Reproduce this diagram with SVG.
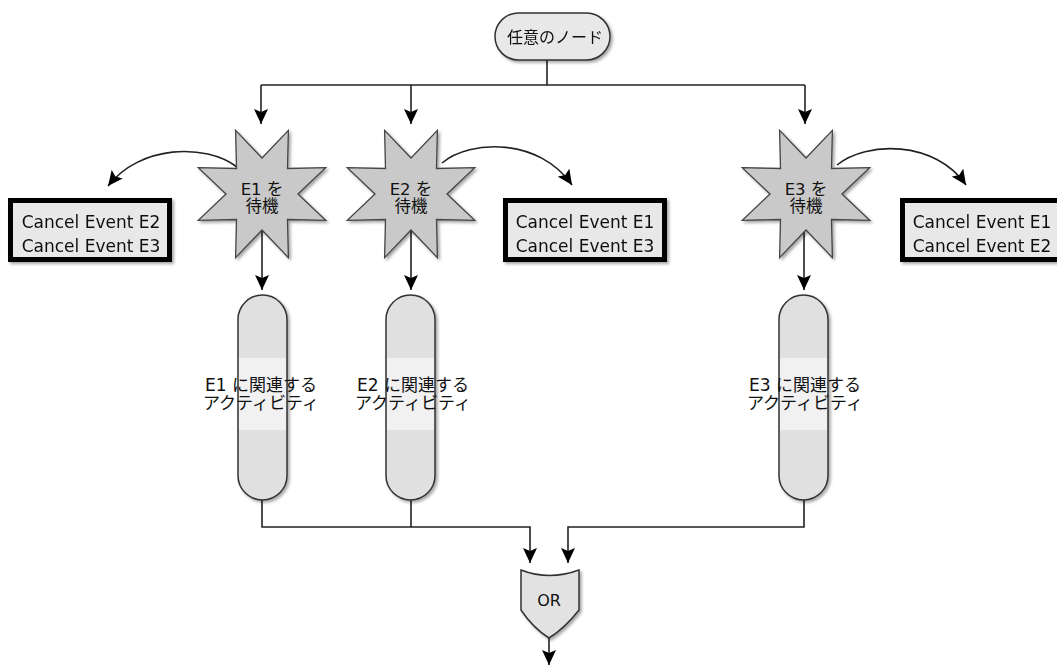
<svg xmlns="http://www.w3.org/2000/svg" xmlns:xlink="http://www.w3.org/1999/xlink" width="1057" height="665" viewBox="0 0 1057 665">
<style>
.ln{fill:none;stroke:#222;stroke-width:1.6}
.star{fill:#c9c9c9;stroke:#444;stroke-width:1.3}
.pill{fill:#e0e0e0;stroke:#333;stroke-width:1.5}
.band{fill:#ffffff;opacity:0.55}
.box{fill:#e8e8e8;stroke:#000;stroke-width:5}
.t{font-family:"DejaVu Sans","Noto Sans CJK JP",sans-serif;fill:#111;text-anchor:middle}
.cancel{font-size:17px}
.sj{font-size:16.5px}
.jp{font-size:17px}
</style>
<defs>
<filter id="sh" x="-20%" y="-20%" width="150%" height="150%">
<feDropShadow dx="2" dy="2" stdDeviation="1.8" flood-color="#000" flood-opacity="0.35"/>
</filter>
<marker id="ah" markerUnits="userSpaceOnUse" markerWidth="16" markerHeight="14" refX="15" refY="7" orient="auto">
<path d="M0,0 L15,7 L0,14 L3,7 z" fill="#000"/>
</marker>
<polygon id="starShape" points="0,-36 26.4,-63.7 25.5,-25.5 63.7,-26.4 36,0 63.7,26.4 25.5,25.5 26.4,63.7 0,36 -26.4,63.7 -25.5,25.5 -63.7,26.4 -36,0 -63.7,-26.4 -25.5,-25.5 -26.4,-63.7"/>
</defs>
<rect width="1057" height="665" fill="#fff"/>

<g id="connectors">
<path class="ln" d="M547,60 V85"/>
<path class="ln" d="M261,85 H805"/>
<path class="ln" d="M261,85 V124" marker-end="url(#ah)"/>
<path class="ln" d="M411,85 V124" marker-end="url(#ah)"/>
<path class="ln" d="M805,85 V124" marker-end="url(#ah)"/>
<path class="ln" d="M262,230 V290" marker-end="url(#ah)"/>
<path class="ln" d="M411,230 V290" marker-end="url(#ah)"/>
<path class="ln" d="M804,230 V290" marker-end="url(#ah)"/>
<path class="ln" d="M237,167 C205,143 140,145 108,186" marker-end="url(#ah)"/>
<path class="ln" d="M442,163 C470,139 540,138 572,185" marker-end="url(#ah)"/>
<path class="ln" d="M837,165 C866,141 935,140 966,185" marker-end="url(#ah)"/>
<path class="ln" d="M262,500 V527 H530 V563" marker-end="url(#ah)"/>
<path class="ln" d="M411,500 V527"/>
<path class="ln" d="M804,500 V527 H568 V563" marker-end="url(#ah)"/>
<path class="ln" d="M549,638 V665" marker-end="url(#ah)"/>
</g>

<g id="start" filter="url(#sh)">
<rect x="495" y="13" width="115" height="47" rx="23.5" fill="#e8e8e8" stroke="#333" stroke-width="1.5"/>
<text class="t" x="555" y="43" font-size="16">任意のノード</text>
</g>

<g id="waitE1">
<use xlink:href="#starShape" x="262" y="194" class="star" filter="url(#sh)"/>
<text class="t sj" x="262" y="195">E1 を</text>
<text class="t sj" x="262" y="212">待機</text>
</g>
<g id="waitE2">
<use xlink:href="#starShape" x="411" y="194" class="star" filter="url(#sh)"/>
<text class="t sj" x="411" y="195">E2 を</text>
<text class="t sj" x="411" y="212">待機</text>
</g>
<g id="waitE3">
<use xlink:href="#starShape" x="806" y="194" class="star" filter="url(#sh)"/>
<text class="t sj" x="806" y="195">E3 を</text>
<text class="t sj" x="806" y="212">待機</text>
</g>

<g id="cancel1" filter="url(#sh)">
<rect class="box" x="10.5" y="200.5" width="159" height="59"/>
<text class="t cancel" x="91" y="228">Cancel Event E2</text>
<text class="t cancel" x="91" y="252">Cancel Event E3</text>
</g>
<g id="cancel2" filter="url(#sh)">
<rect class="box" x="505.5" y="200.5" width="159" height="59"/>
<text class="t cancel" x="585" y="228">Cancel Event E1</text>
<text class="t cancel" x="585" y="252">Cancel Event E3</text>
</g>
<g id="cancel3" filter="url(#sh)">
<rect class="box" x="902.5" y="200.5" width="159" height="59"/>
<text class="t cancel" x="982" y="228">Cancel Event E1</text>
<text class="t cancel" x="982" y="252">Cancel Event E2</text>
</g>

<g id="act1">
<rect class="pill" x="238" y="295" width="49" height="205" rx="24.5" filter="url(#sh)"/>
<rect class="band" x="239" y="358" width="47" height="72"/>
<text class="t jp" x="261" y="391">E1 に関連する</text>
<text class="t jp" x="261" y="409">アクティビティ</text>
</g>
<g id="act2">
<rect class="pill" x="386" y="295" width="49" height="205" rx="24.5" filter="url(#sh)"/>
<rect class="band" x="387" y="358" width="47" height="72"/>
<text class="t jp" x="413" y="391">E2 に関連する</text>
<text class="t jp" x="413" y="409">アクティビティ</text>
</g>
<g id="act3">
<rect class="pill" x="779" y="295" width="49" height="205" rx="24.5" filter="url(#sh)"/>
<rect class="band" x="780" y="358" width="47" height="72"/>
<text class="t jp" x="805" y="391">E3 に関連する</text>
<text class="t jp" x="805" y="409">アクティビティ</text>
</g>

<g id="or">
<path d="M521,570 Q549,581 579,570 V610 Q565,628 549,638 Q533,628 521,610 Z" fill="#e2e2e2" stroke="#333" stroke-width="1.5" filter="url(#sh)"/>
<text class="t" x="549" y="606" font-size="16">OR</text>
</g>
</svg>
